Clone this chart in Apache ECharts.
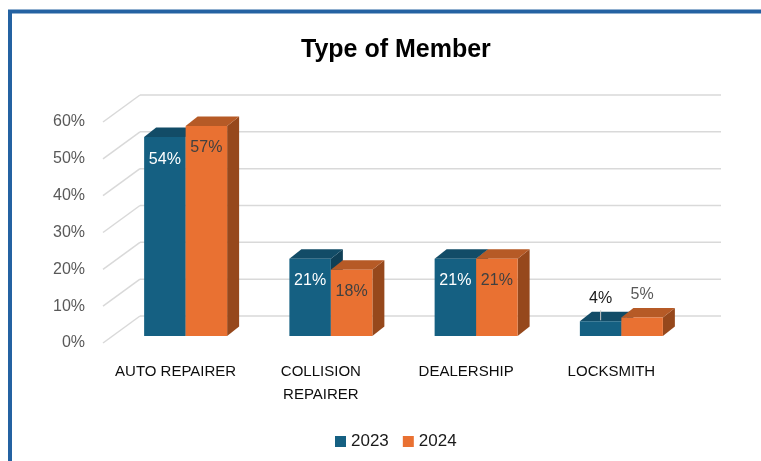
<!DOCTYPE html>
<html>
<head>
<meta charset="utf-8">
<script src="https://cdn.jsdelivr.net/npm/echarts@6/dist/echarts.min.js"></script>
<style>
html,body{margin:0;padding:0;background:#fff;}
#chart{width:761px;height:461px;}
</style>
</head>
<body>
<div id="chart"></div>
<script>
// ---- data ----
var categories = ['AUTO REPAIRER', 'COLLISION REPAIRER', 'DEALERSHIP', 'LOCKSMITH'];
var seriesNames = ['2023', '2024'];
var values2023 = [0.54, 0.21, 0.21, 0.04];
var values2024 = [0.57, 0.18, 0.21, 0.05];
var yTicks = [0, 0.1, 0.2, 0.3, 0.4, 0.5, 0.6];

// ---- styles ----
var FONT = '"Liberation Sans", Arial, sans-serif';
var BAR_FRAC = 0.2857;
var PLANE_DX = 10, PLANE_DY = -7;     // bar plane offset from front plane
var DEPTH_DX = 12, DEPTH_DY = -9.5;   // bar depth
var BACK_DX = 37, BACK_DY = -27;      // back wall offset
var palette = [
  {front: '#156082', top: '#124c67', side: '#0f3f56', inLabel: '#ffffff', outLabel: '#1a1a1a', leader: true},
  {front: '#E97132', top: '#b65a26', side: '#96481c', inLabel: '#404040', outLabel: '#595959', leader: false}
];

function pct(v) { return Math.round(v * 100) + '%'; }

function makeBarRender(idx) {
  var c = palette[idx];
  return function (params, api) {
    var cat = api.value(0), val = api.value(1);
    var base = api.coord([cat, 0]);
    var tp = api.coord([cat, val]);
    var band = api.size([1, 0])[0];
    var w = band * BAR_FRAC;
    var x0 = base[0] + PLANE_DX + (idx === 0 ? -w : 0);
    var x1 = x0 + w;
    var yb = base[1] + PLANE_DY;
    var yt = tp[1] + PLANE_DY;
    var children = [
      {type: 'polygon', shape: {points: [[x1, yt], [x1 + DEPTH_DX, yt + DEPTH_DY], [x1 + DEPTH_DX, yb + DEPTH_DY], [x1, yb]]}, style: {fill: c.side}},
      {type: 'polygon', shape: {points: [[x0, yt], [x1, yt], [x1 + DEPTH_DX, yt + DEPTH_DY], [x0 + DEPTH_DX, yt + DEPTH_DY]]}, style: {fill: c.top}},
      {type: 'rect', shape: {x: x0, y: yt, width: w, height: yb - yt}, style: {fill: c.front}}
    ];
    var cx = (x0 + x1) / 2;
    var inside = (yb - yt) > 40;
    if (inside) {
      children.push({type: 'text', x: cx, y: yt + 22, style: {text: pct(val), fill: c.inLabel, font: '16px ' + FONT, align: 'center', verticalAlign: 'middle'}});
    } else {
      if (c.leader) {
        children.push({type: 'line', shape: {x1: cx, y1: yt - 11, x2: cx, y2: yt - 1}, style: {stroke: '#c8c8c8', lineWidth: 1}});
      }
      children.push({type: 'text', x: cx, y: yt - 23, style: {text: pct(val), fill: c.outLabel, font: '16px ' + FONT, align: 'center', verticalAlign: 'middle'}});
    }
    return {type: 'group', children: children};
  };
}

function gridRender(params, api) {
  var cs = params.coordSys;
  var y = api.coord([0, api.value(1)])[1];
  var xl = cs.x, xr = cs.x + cs.width;
  return {type: 'group', children: [
    {type: 'line', shape: {x1: xl, y1: y, x2: xl + BACK_DX, y2: y + BACK_DY}, style: {stroke: '#d9d9d9', lineWidth: 1.5}},
    {type: 'line', shape: {x1: xl + BACK_DX, y1: y + BACK_DY, x2: xr + BACK_DX, y2: y + BACK_DY}, style: {stroke: '#d9d9d9', lineWidth: 1.5}}
  ]};
}

var chart = echarts.init(document.getElementById('chart'), null, {renderer: 'canvas'});
chart.setOption({
  animation: false,
  backgroundColor: '#ffffff',
  title: {
    text: 'Type of Member', left: 296, top: 33,
    textStyle: {fontFamily: FONT, fontWeight: 'bold', fontSize: 25, color: '#000000'}
  },
  legend: {
    data: seriesNames, top: 428, left: 330, icon: 'rect', itemWidth: 11, itemHeight: 11, itemGap: 14,
    textStyle: {fontFamily: FONT, fontSize: 17, color: '#1a1a1a'}
  },
  grid: {left: 103, right: 77, top: 122, bottom: 118, containLabel: false},
  xAxis: {
    type: 'category', data: categories,
    axisLine: {show: false}, axisTick: {show: false}, splitLine: {show: false},
    axisLabel: {
      margin: 17, fontFamily: FONT, fontSize: 15, color: '#0d0d0d', lineHeight: 23, interval: 0,
      formatter: function (v) { return v.length > 14 ? v.replace(' ', '\n') : v; }
    }
  },
  yAxis: {
    type: 'value', min: 0, max: 0.6, interval: 0.1,
    axisLine: {show: false}, axisTick: {show: false}, splitLine: {show: false},
    axisLabel: {margin: 18, fontFamily: FONT, fontSize: 16, color: '#595959', formatter: function (v) { return Math.round(v * 100) + '%'; }}
  },
  graphic: [{
    type: 'rect', shape: {x: 10, y: 11.5, width: 800, height: 500},
    style: {fill: 'none', stroke: '#2462a2', lineWidth: 4}, silent: true, z: 100
  }],
  series: [
    {type: 'custom', name: 'grid', silent: true, z: 1, renderItem: gridRender,
     data: yTicks.map(function (v) { return [0, v]; })},
    {type: 'custom', name: seriesNames[0], z: 2, itemStyle: {color: palette[0].front}, renderItem: makeBarRender(0),
     data: values2023.map(function (v, i) { return [i, v]; })},
    {type: 'custom', name: seriesNames[1], z: 3, itemStyle: {color: palette[1].front}, renderItem: makeBarRender(1),
     data: values2024.map(function (v, i) { return [i, v]; })}
  ]
});
</script>
</body>
</html>
